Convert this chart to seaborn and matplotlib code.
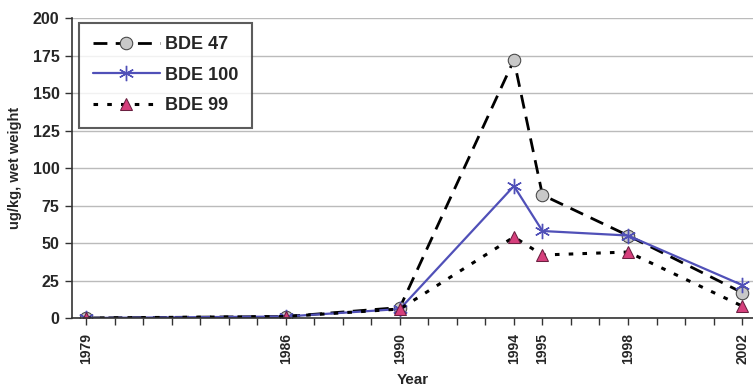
import matplotlib
matplotlib.use("Agg")
import matplotlib.pyplot as plt
import seaborn as sns
import pandas as pd

years = [1979, 1986, 1990, 1994, 1995, 1998, 2002]
bde47 = [0, 1, 7, 172, 82, 55, 17]
bde100 = [0, 1, 6, 88, 58, 55, 22]
bde99 = [0, 1, 6, 54, 42, 44, 8]
series_names = ["BDE 47", "BDE 100", "BDE 99"]
yticks = [0, 25, 50, 75, 100, 125, 150, 175, 200]

sns.set_style("white")
plt.rcParams['font.family'] = ['Liberation Sans', 'DejaVu Sans']
plt.rcParams['font.weight'] = 'bold'

fig = plt.figure(figsize=(7.53, 3.89), dpi=100)
ax = fig.add_axes([0.0956, 0.1825, 0.905, 0.7712])

styles = {
    "BDE 47": dict(color="black", linestyle=(0, (5, 3)), marker="o", markersize=9,
                   markerfacecolor="#c8c8c8", markeredgecolor="#444444", linewidth=2.0),
    "BDE 100": dict(color="#5050b8", linestyle="-", marker=(6, 2, 0), markersize=11,
                    markeredgecolor="#5050b8", markeredgewidth=1.0, linewidth=1.6),
    "BDE 99": dict(color="black", linestyle=(0, (1.5, 3)), marker="^", markersize=9,
                   markerfacecolor="#d63f7c", markeredgecolor="#6a2040", linewidth=2.2),
}
for name, vals in zip(series_names, [bde47, bde100, bde99]):
    df = pd.DataFrame({"Year": years, "v": vals})
    sns.lineplot(data=df, x="Year", y="v", ax=ax, label=name, **styles[name])

ax.set_xlim(1978.5, 2002.4)
ax.set_ylim(0, 200)
ax.set_yticks(yticks)
ax.set_xticks(years)
ax.set_xticks(range(1979, 2003), minor=True)
ax.set_xticklabels([str(y) for y in years], rotation=90, fontsize=10, fontweight='heavy')
ax.set_yticklabels([str(t) for t in yticks], fontsize=11.5, fontweight='heavy')
ax.tick_params(axis='x', which='both', direction='out', length=5, width=1, color='#333333',
               bottom=True, pad=6)
ax.tick_params(axis='y', direction='out', length=5, width=1, color='#333333', left=True, pad=4)
ax.yaxis.grid(True, color="#bbbbbb", linewidth=1)
ax.xaxis.grid(False)
for s in ["top", "right"]:
    ax.spines[s].set_visible(False)
for s in ["left", "bottom"]:
    ax.spines[s].set_color("#333333")
    ax.spines[s].set_linewidth(1.2)

ax.set_xlabel("Year", fontsize=11, fontweight='heavy', labelpad=6)
ax.set_ylabel("ug/kg, wet weight", fontsize=10.5, fontweight='heavy', labelpad=8)

leg = ax.legend(loc="upper left", bbox_to_anchor=(0.011, 0.985), frameon=True, fancybox=False,
                edgecolor="#333333", fontsize=13, handlelength=3.7, borderpad=0.75,
                labelspacing=0.75, handletextpad=0.3, borderaxespad=0)
leg.get_frame().set_linewidth(1.5)
for t in leg.get_texts():
    t.set_fontweight('heavy')

fig.savefig("out.png", dpi=100)
